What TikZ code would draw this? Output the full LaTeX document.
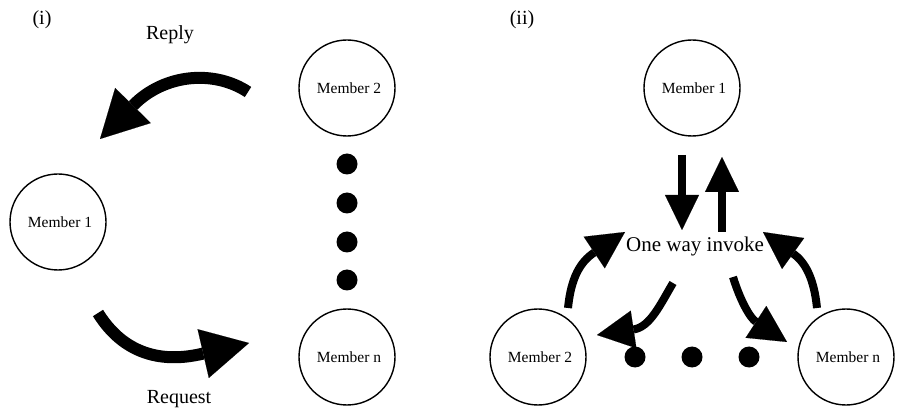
\documentclass[tikz,border=0pt]{standalone}
\usepackage{fontspec}
\setmainfont{Liberation Serif}
\usetikzlibrary{arrows.meta}
\begin{document}
\begin{tikzpicture}[x=1pt,y=-1pt,
  member/.style={circle,draw,line width=1.4pt,minimum size=96pt,inner sep=0pt,font=\fontsize{15.5}{16}\selectfont},
  lbl/.style={inner sep=0pt,font=\fontsize{20}{22}\selectfont},
  dot/.style={circle,fill,minimum size=21pt,inner sep=0pt},
  bigarrow/.style={line width=12pt,-{Triangle[length=47pt,width=50pt,line width=0.1pt]}},
  midarrow/.style={line width=8pt,-{Triangle[length=37pt,width=38pt,line width=0.1pt]}},
  vertarrow/.style={line width=8pt,-{Triangle[length=35pt,width=34pt,line width=0.1pt]}}]
\useasboundingbox (0,0) rectangle (899,411);

% ---------- panel (i) ----------
\node[lbl] (ti) at (42,20) {(i)};
\node[lbl] (reply) at (170,35) {Reply};
\node[lbl] (request) at (179,399) {Request};
\node[member] (a2) at (347,88) {\hspace{4pt}Member 2};
\node[member] (a1) at (58,222) {\hspace{4pt}Member 1};
\node[member] (an) at (347,357) {\hspace{4pt}Member n};
\node[dot] (ad1) at (347,164) {};
\node[dot] (ad2) at (347,203) {};
\node[dot] (ad3) at (347,242) {};
\node[dot] (ad4) at (347,280) {};

\coordinate (rs) at (248,92);
\coordinate (rt) at (100,139);
\draw[bigarrow] (rs) .. controls (215,70) and (165,73) .. (rt);
\coordinate (qs) at (98,313);
\coordinate (qt) at (249,343);
\draw[bigarrow] (qs) .. controls (132,368) and (184,358) .. (qt);

% ---------- panel (ii) ----------
\node[lbl] (tii) at (522,20) {(ii)};
\node[member] (b1) at (692,88) {\hspace{4pt}Member 1};
\node[member] (b2) at (538,357) {\hspace{4pt}Member 2};
\node[member] (bn) at (846,357) {\hspace{4pt}Member n};
\node[dot] (bd1) at (635,357) {};
\node[dot] (bd2) at (692,357) {};
\node[dot] (bd3) at (749,357) {};
\node[inner sep=0pt,font=\fontsize{21}{23}\selectfont] (inv) at (695,246) {One way invoke};

\coordinate (ds) at (682,155);
\coordinate (dt) at (682,230);
\draw[vertarrow] (ds) -- (dt);
\coordinate (us) at (722,232);
\coordinate (ut) at (722,157);
\draw[vertarrow] (us) -- (ut);

\coordinate (ls) at (568,308);
\coordinate (lt) at (625,232);
\draw[midarrow] (ls) .. controls (571,278) and (580,262) .. (lt);
\coordinate (rrs) at (817,308);
\coordinate (rrt) at (763,232);
\draw[midarrow] (rrs) .. controls (814,278) and (805,262) .. (rrt);

\coordinate (dls) at (673,283);
\coordinate (dlt) at (597,335);
\draw[midarrow] (dls) .. controls (660,305) and (650,327) .. (dlt);
\coordinate (drs) at (733,277);
\coordinate (drt) at (787,342);
\draw[midarrow] (drs) .. controls (740,300) and (750,318) .. (drt);
\end{tikzpicture}
\end{document}
